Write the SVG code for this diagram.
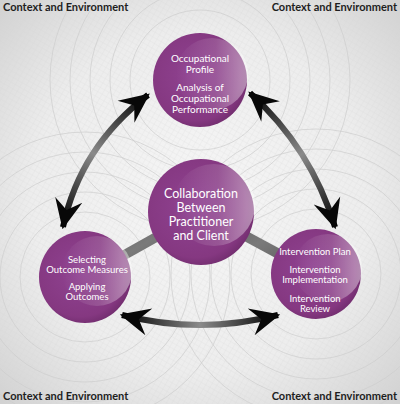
<svg xmlns="http://www.w3.org/2000/svg" width="400" height="404" viewBox="0 0 400 404">
<defs>
<style>
.ring{fill:none;stroke:#cdcdcd;stroke-width:0.7}
.lbl{font-family:Lato,"Open Sans","Liberation Sans",sans-serif;fill:#ffffff;text-anchor:middle}
.ctx{font-family:Lato,"Open Sans","Liberation Sans",sans-serif;font-weight:bold;font-size:11px;fill:#1e1e1e}
.shaft{fill:none;stroke-width:6;stroke-linecap:butt}
.link{stroke:url(#linkg);stroke-width:10}
</style>
<radialGradient id="bg" cx="50%" cy="50%" r="70%">
<stop offset="0" stop-color="#f6f6f6"/>
<stop offset="0.6" stop-color="#ededed"/>
<stop offset="1" stop-color="#d2d2d2"/>
</radialGradient>
<pattern id="hatch" width="5" height="5" patternUnits="userSpaceOnUse" patternTransform="rotate(30)">
<path d="M0,0 L0,5 M0,0 L5,0" stroke="#d4d4d4" stroke-width="0.5" fill="none"/>
</pattern>
<linearGradient id="linkg" x1="0" y1="0" x2="1" y2="1">
<stop offset="0" stop-color="#555"/><stop offset="0.5" stop-color="#7a7a7a"/><stop offset="1" stop-color="#555"/>
</linearGradient>
<radialGradient id="ball" cx="45%" cy="45%" r="60%">
<stop offset="0" stop-color="#904392"/>
<stop offset="0.8" stop-color="#853881"/>
<stop offset="1" stop-color="#6e2b6b"/>
</radialGradient>
<linearGradient id="shine" x1="0" y1="0" x2="1" y2="0">
<stop offset="0" stop-color="#ffffff" stop-opacity="0"/>
<stop offset="0.55" stop-color="#ffffff" stop-opacity="0.14"/>
<stop offset="1" stop-color="#ffffff" stop-opacity="0.45"/>
</linearGradient>
<marker id="head" viewBox="0 0 26 26" refX="24" refY="13" markerWidth="30" markerHeight="30" markerUnits="userSpaceOnUse" orient="auto-start-reverse">
<path d="M26,13 L0,1 L9,13 L0,25 Z" fill="#080808"/>
</marker>
<linearGradient id="gL" gradientUnits="userSpaceOnUse" x1="63" y1="227" x2="148" y2="95">
<stop offset="0" stop-color="#000"/><stop offset="0.5" stop-color="#8a8a8a"/><stop offset="1" stop-color="#000"/>
</linearGradient>
<linearGradient id="gR" gradientUnits="userSpaceOnUse" x1="250" y1="93" x2="335" y2="227">
<stop offset="0" stop-color="#000"/><stop offset="0.5" stop-color="#8a8a8a"/><stop offset="1" stop-color="#000"/>
</linearGradient>
<linearGradient id="gB" gradientUnits="userSpaceOnUse" x1="122" y1="315" x2="278" y2="315">
<stop offset="0" stop-color="#000"/><stop offset="0.5" stop-color="#8a8a8a"/><stop offset="1" stop-color="#000"/>
</linearGradient>
</defs>

<rect width="400" height="404" fill="url(#bg)"/>
<rect width="400" height="404" fill="url(#hatch)" opacity="0.7"/>

<g id="background-rings">
<circle class="ring" cx="200" cy="80" r="70"/>
<circle class="ring" cx="200" cy="80" r="90"/>
<circle class="ring" cx="200" cy="80" r="110"/>
<circle class="ring" cx="200" cy="80" r="130"/>
<circle class="ring" cx="200" cy="80" r="150"/>
<circle class="ring" cx="85" cy="277" r="65"/>
<circle class="ring" cx="85" cy="277" r="85"/>
<circle class="ring" cx="85" cy="277" r="105"/>
<circle class="ring" cx="85" cy="277" r="125"/>
<circle class="ring" cx="85" cy="277" r="145"/>
<circle class="ring" cx="316" cy="274" r="65"/>
<circle class="ring" cx="316" cy="274" r="85"/>
<circle class="ring" cx="316" cy="274" r="105"/>
<circle class="ring" cx="316" cy="274" r="125"/>
<circle class="ring" cx="316" cy="274" r="145"/>
</g>

<g id="connectors">
<line class="link" x1="200" y1="212" x2="200" y2="80"/>
<line class="link" x1="201" y1="212" x2="85" y2="277"/>
<line class="link" x1="201" y1="212" x2="316" y2="274"/>
<path class="shaft" d="M63,227 Q80,147 148,95" stroke="url(#gL)" marker-start="url(#head)" marker-end="url(#head)"/>
<path class="shaft" d="M250,93 Q311,148 335,227" stroke="url(#gR)" marker-start="url(#head)" marker-end="url(#head)"/>
<path class="shaft" d="M122,315 Q200,335 278,315" stroke="url(#gB)" marker-start="url(#head)" marker-end="url(#head)"/>
</g>

<g id="node-top">
<circle cx="200" cy="80" r="47" fill="url(#ball)"/>
<circle cx="212" cy="74" r="36" fill="url(#shine)"/>
<text class="lbl" font-size="10"><tspan x="200" y="62">Occupational</tspan><tspan x="200" y="73">Profile</tspan><tspan x="200" y="91">Analysis of</tspan><tspan x="200" y="102">Occupational</tspan><tspan x="200" y="113">Performance</tspan></text>
</g>

<g id="node-center">
<circle cx="201" cy="212" r="53" fill="url(#ball)"/>
<circle cx="214" cy="205" r="41" fill="url(#shine)"/>
<text class="lbl" font-size="12.5"><tspan x="201" y="198">Collaboration</tspan><tspan x="201" y="212">Between</tspan><tspan x="201" y="226">Practitioner</tspan><tspan x="201" y="240">and Client</tspan></text>
</g>

<g id="node-left">
<circle cx="85" cy="277" r="46" fill="url(#ball)"/>
<circle cx="97" cy="271" r="35" fill="url(#shine)"/>
<text class="lbl" font-size="9.5"><tspan x="87" y="263">Selecting</tspan><tspan x="87" y="273">Outcome Measures</tspan><tspan x="87" y="290">Applying</tspan><tspan x="87" y="300">Outcomes</tspan></text>
</g>

<g id="node-right">
<circle cx="316" cy="274" r="45" fill="url(#ball)"/>
<circle cx="328" cy="268" r="34" fill="url(#shine)"/>
<text class="lbl" font-size="9.5"><tspan x="315" y="255">Intervention Plan</tspan><tspan x="315" y="273">Intervention</tspan><tspan x="315" y="283">Implementation</tspan><tspan x="315" y="302">Intervention</tspan><tspan x="315" y="312">Review</tspan></text>
</g>

<g id="corner-labels">
<text class="ctx" x="3" y="11">Context and Environment</text>
<text class="ctx" x="397" y="11" text-anchor="end">Context and Environment</text>
<text class="ctx" x="3" y="400">Context and Environment</text>
<text class="ctx" x="397" y="400" text-anchor="end">Context and Environment</text>
</g>
</svg>
